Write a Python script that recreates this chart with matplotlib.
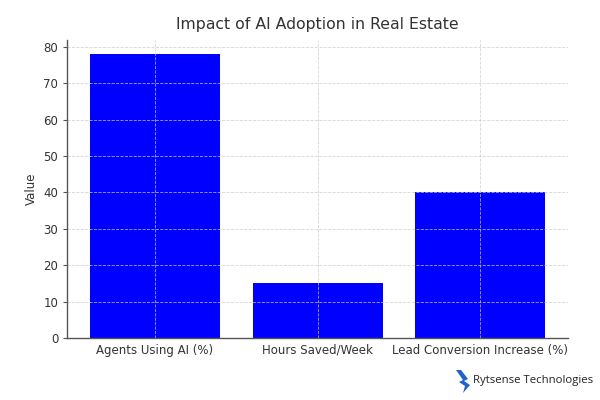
import matplotlib
matplotlib.use('Agg')
import matplotlib.pyplot as plt
from matplotlib.patches import Polygon

categories = ['Agents Using AI (%)', 'Hours Saved/Week', 'Lead Conversion Increase (%)']
values = [78, 15, 40]

plt.rcParams['font.family'] = ['DejaVu Sans']
text_c = '#333333'

fig = plt.figure(figsize=(6, 4), dpi=100)
ax = fig.add_axes([0.112, 0.155, 0.835, 0.745])
ax.bar(categories, values, color='#0000ff', width=0.8, zorder=2)
ax.grid(True, linestyle='--', color='#cccccc', linewidth=0.6, alpha=0.8, zorder=3)
ax.set_axisbelow(False)
for s in ['top', 'right']:
    ax.spines[s].set_visible(False)
for s in ['left', 'bottom']:
    ax.spines[s].set_color('#555555')
    ax.spines[s].set_linewidth(1.0)
    ax.spines[s].set_zorder(4)
ax.tick_params(axis='x', length=0, labelsize=8.5, colors=text_c, pad=4)
ax.tick_params(axis='y', length=3, labelsize=8.5, colors=text_c, color='#555555')
ax.set_ylabel('Value', fontsize=8.5, color=text_c)
ax.set_title('Impact of AI Adoption in Real Estate', fontsize=11.3, color=text_c, pad=8)

# logo (pixel outline converted to figure fraction)
bolt_px = [(456, 370), (461, 370), (468, 379), (464, 381), (470, 385),
           (463, 393), (465, 386), (459, 382), (463, 380)]
bolt = [(x / 600, 1 - y / 400) for x, y in bolt_px]
fig.patches.append(Polygon(bolt, closed=True, transform=fig.transFigure,
                           facecolor='#1f63c9', edgecolor='none'))
fig.text(0.788, 0.048, 'Rytsense Technologies', fontsize=8.2, color='#222222',
         va='center', ha='left', family=['Open Sans', 'DejaVu Sans'])

fig.savefig('out.png', dpi=100)
